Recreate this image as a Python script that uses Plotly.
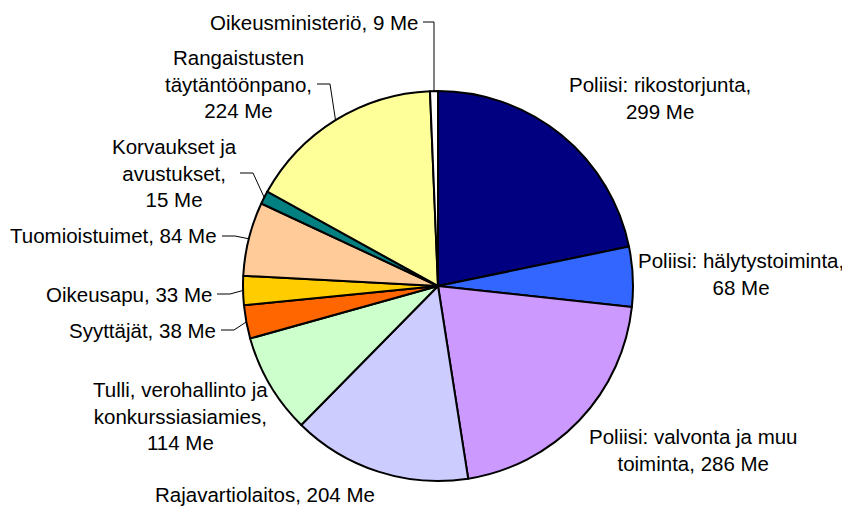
import math
import plotly.graph_objects as go

labels = ["Poliisi: rikostorjunta", "Poliisi: hälytystoiminta",
          "Poliisi: valvonta ja muu toiminta", "Rajavartiolaitos",
          "Tulli, verohallinto ja konkurssiasiamies", "Syyttäjät",
          "Oikeusapu", "Tuomioistuimet", "Korvaukset ja avustukset",
          "Rangaistusten täytäntöönpano", "Oikeusministeriö"]
values = [299, 68, 286, 204, 114, 38, 33, 84, 15, 224, 9]
label_texts = ["Poliisi: rikostorjunta,<br>299 Me",
               "Poliisi: hälytystoiminta,<br>68 Me",
               "Poliisi: valvonta ja muu<br>toiminta, 286 Me",
               "Rajavartiolaitos, 204 Me",
               "Tulli, verohallinto ja<br>konkurssiasiamies,<br>114 Me",
               "Syyttäjät, 38 Me",
               "Oikeusapu, 33 Me",
               "Tuomioistuimet, 84 Me",
               "Korvaukset ja<br>avustukset,<br>15 Me",
               "Rangaistusten<br>täytäntöönpano,<br>224 Me",
               "Oikeusministeriö, 9 Me"]
colors = ["#000080", "#3366FF", "#CC99FF", "#CCCCFF", "#CCFFCC", "#FF6600",
          "#FFCC00", "#FFCC99", "#008080", "#FFFF99", "#FFFFFF"]

# page body has an 8px margin, so the figure sits at (8, 8) in the window
OFF = 8
W, H = 850 - OFF, 506 - OFF
cx, cy, r = 438, 286, 195

# label placement in window pixels: (x, y, xanchor, leader?)
placement = [
    (660, 98, "center", False),
    (741, 274, "center", False),
    (693, 450, "center", False),
    (265, 494, "center", False),
    (180, 416, "center", False),
    (218, 330, "right", True),
    (214, 294, "right", True),
    (219, 236, "right", True),
    (174, 173, "center", True),
    (238, 84, "center", True),
    (420, 22, "right", True),
]
# where the leader line leaves the text (x in px), for the centered ones
leader_start = {8: 240, 9: 317}


def px(x):
    return (x - OFF) / W


def py(y):
    return 1 - (y - OFF) / H


font = dict(family="Liberation Sans, Arial", size=20.5, color="black")

fig = go.Figure(go.Pie(
    labels=labels,
    values=values,
    sort=False,
    direction="clockwise",
    rotation=0,
    textinfo="none",
    hoverinfo="label+value",
    marker=dict(colors=colors, line=dict(color="black", width=2)),
    domain=dict(x=[px(cx - r), px(cx + r)], y=[py(cy + r), py(cy - r)]),
    showlegend=False,
))

total = sum(values)
annotations = []
shapes = []
cum = 0
for i, v in enumerate(values):
    mid = (cum + v / 2) / total * 2 * math.pi
    cum += v
    x, y, anchor, leader = placement[i]
    annotations.append(dict(
        x=px(x), y=py(y), xref="paper", yref="paper", text=label_texts[i],
        showarrow=False, xanchor=anchor, yanchor="middle", align="center",
        font=font,
    ))
    if leader:
        ex = cx + r * math.sin(mid)
        ey = cy - r * math.cos(mid)
        sx = leader_start.get(i, x + 3)
        elbow = ex if i == 10 else sx + 13
        path = "M {} {} L {} {} L {} {}".format(
            px(sx), py(y), px(elbow), py(y), px(ex), py(ey))
        shapes.append(dict(type="path", path=path, xref="paper", yref="paper",
                           line=dict(color="black", width=1)))

fig.update_layout(
    width=W, height=H,
    margin=dict(l=0, r=0, t=0, b=0),
    paper_bgcolor="white",
    annotations=annotations,
    shapes=shapes,
)
fig.write_html("out.html")
